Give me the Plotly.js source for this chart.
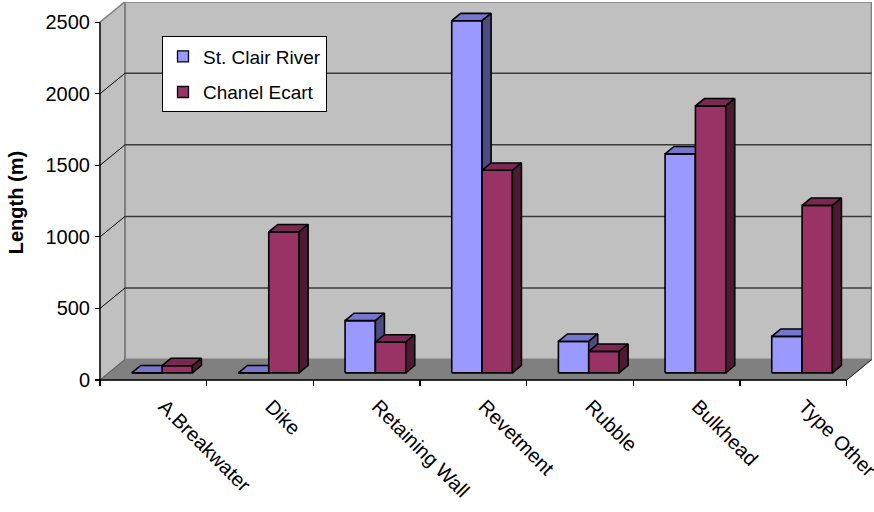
<!DOCTYPE html>
<html><head><meta charset="utf-8">
<script src="https://cdn.plot.ly/plotly-3.0.1.min.js"></script>
<style>html,body{margin:0;padding:0;background:#fff;} #chart{width:874px;height:512px;}</style>
</head><body><div id="chart"></div>
<script>
// ---- data ----
const categories = ['A.Breakwater', 'Dike', 'Retaining Wall', 'Revetment', 'Rubble', 'Bulkhead', 'Type Other'];
const stClairRiver = [0, 0, 365, 2460, 220, 1530, 255];
const chanelEcart = [50, 985, 215, 1415, 150, 1865, 1170];
const seriesNames = ['St. Clair River', 'Chanel Ecart'];
const yTickValues = [0, 500, 1000, 1500, 2000, 2500];
const yTitle = 'Length (m)';

// ---- styles ----
const frontColors = ['#9999FF', '#993366'];
const topColors = ['#7676CC', '#7A2952'];
const sideColors = ['#4C4C80', '#4D1A33'];
const FONT = 'Liberation Sans, Arial, sans-serif';

// ---- 3D geometry (pixels) ----
const W = 874, H = 512;
const plotLeft = 95, plotRight = 872, plotTop = 1.5, plotBottom = 386;
const frontLeft = 100, frontRight = 846.67, frontZero = 380, frontTop = 21.7;
const nCat = categories.length;
const yMaxTick = yTickValues[yTickValues.length - 1];
const Kx = (frontRight - frontLeft) / nCat;
const Ky = (frontZero - frontTop) / yMaxTick;
const DX = 25 / Kx, DY = 20.5 / Ky;          // depth of the box in data units
const xRange = [-0.5 - (frontLeft - plotLeft) / Kx, -0.5 + (plotRight - frontLeft) / Kx];
const yRange = [-(plotBottom - frontZero) / Ky, (frontZero - plotTop) / Ky];
const xLo = -0.5, xHi = nCat - 0.5;
const barW = 30.35 / Kx;
const fFront = 0.35, fDepth = 0.36;

function pushPoly(o, pts) {
  pts.forEach(p => { o.x.push(p[0]); o.y.push(p[1]); });
  o.x.push(pts[0][0]); o.y.push(pts[0][1]);
  o.x.push(null); o.y.push(null);
}

function barFaces(vals, s) {
  const front = {x: [], y: []}, top = {x: [], y: []}, side = {x: [], y: []};
  const dx = fDepth * DX, dy = fDepth * DY;
  vals.forEach((v, i) => {
    const x0 = i - barW + s * barW + fFront * DX, x1 = x0 + barW;
    const yb = fFront * DY, yt = yb + v;
    pushPoly(front, [[x0, yb], [x1, yb], [x1, yt], [x0, yt]]);
    pushPoly(top, [[x0, yt], [x1, yt], [x1 + dx, yt + dy], [x0 + dx, yt + dy]]);
    pushPoly(side, [[x1, yb], [x1 + dx, yb + dy], [x1 + dx, yt + dy], [x1, yt]]);
  });
  return [front, top, side];
}

const traces = [];
[stClairRiver, chanelEcart].forEach((vals, s) => {
  const faces = barFaces(vals, s);
  const cols = [frontColors[s], topColors[s], sideColors[s]];
  faces.forEach((f, k) => {
    traces.push({
      type: 'scatter', mode: 'lines', x: f.x, y: f.y, fill: 'toself',
      fillcolor: cols[k], line: {color: '#000', width: 1.6}, connectgaps: false,
      hoverinfo: 'skip', showlegend: false
    });
  });
});
// legend entries
seriesNames.forEach((n, s) => {
  traces.push({
    type: 'scatter', mode: 'markers', x: [null], y: [null], name: n,
    legendgroup: 'g' + s,
    marker: {symbol: 'square', size: 11, color: frontColors[s], line: {color: '#000', width: 1.3}}
  });
});
// dummy trace to anchor the boundary-tick axis
traces.push({type: 'scatter', x: [null], y: [null], xaxis: 'x2', showlegend: false, hoverinfo: 'skip'});

// ---- walls, floor, gridlines ----
const shapes = [];
const wallGray = '#C0C0C0', edgeGray = '#808080';
shapes.push({type: 'path', layer: 'below', xref: 'x', yref: 'y',
  path: `M${xLo},0 L${xLo + DX},${DY} L${xHi + DX},${DY} L${xHi},0 Z`,
  fillcolor: '#808080', line: {color: '#808080', width: 1}});
shapes.push({type: 'path', layer: 'below', xref: 'x', yref: 'y',
  path: `M${xLo},0 L${xLo + DX},${DY} L${xLo + DX},${yMaxTick + DY} L${xLo},${yMaxTick} Z`,
  fillcolor: wallGray, line: {color: edgeGray, width: 1.5}});
shapes.push({type: 'rect', layer: 'below', xref: 'x', yref: 'y',
  x0: xLo + DX, x1: xHi + DX, y0: DY, y1: yMaxTick + DY,
  fillcolor: wallGray, line: {color: edgeGray, width: 2}});
yTickValues.forEach(v => {
  if (v === 0 || v === yMaxTick) return;
  shapes.push({type: 'line', layer: 'below', xref: 'x', yref: 'y',
    x0: xLo + DX, x1: xHi + DX, y0: v + DY, y1: v + DY, line: {color: '#3a3a3a', width: 1.5}});
  shapes.push({type: 'line', layer: 'below', xref: 'x', yref: 'y',
    x0: xLo, x1: xLo + DX, y0: v, y1: v + DY, line: {color: '#000', width: 1}});
});
// floor edges
shapes.push({type: 'line', layer: 'below', xref: 'x', yref: 'y',
  x0: xLo, x1: xLo + DX, y0: 0, y1: DY, line: {color: '#606060', width: 1}});
shapes.push({type: 'line', layer: 'below', xref: 'x', yref: 'y',
  x0: xHi, x1: xHi + DX, y0: 0, y1: DY, line: {color: '#202020', width: 1}});
// axis lines
shapes.push({type: 'line', layer: 'above', xref: 'x', yref: 'y',
  x0: xLo, x1: xLo, y0: 0, y1: yMaxTick, line: {color: '#000', width: 1.3}});
shapes.push({type: 'line', layer: 'above', xref: 'x', yref: 'y',
  x0: xLo, x1: xHi, y0: 0, y1: 0, line: {color: '#000', width: 1.3}});

const catIdx = categories.map((c, i) => i);
const bounds = [];
for (let i = 0; i <= nCat; i++) bounds.push(i - 0.5);

const layout = {
  width: W, height: H,
  margin: {l: plotLeft, r: W - plotRight, t: plotTop, b: H - plotBottom, pad: 0},
  paper_bgcolor: '#fff', plot_bgcolor: '#fff',
  font: {family: FONT, size: 20, color: '#000'},
  showlegend: true,
  xaxis: {range: xRange, tickvals: catIdx, ticktext: categories, tickangle: 45,
    ticks: '', showgrid: false, zeroline: false, showline: false, ticklabeloverflow: 'allow',
    tickfont: {family: FONT, size: 20, color: '#000'}, ticklabelstandoff: 4, ticklabelshift: 11},
  xaxis2: {range: xRange, overlaying: 'x', anchor: 'y', side: 'bottom', tickvals: bounds,
    ticks: 'inside', ticklen: 6, tickcolor: '#000', tickwidth: 1.2, showticklabels: false,
    showgrid: false, zeroline: false, showline: false},
  yaxis: {range: yRange, tickvals: yTickValues, ticks: 'inside', ticklen: 5, tickcolor: '#000',
    tickwidth: 1.2, showgrid: false, zeroline: false, showline: false,
    tickfont: {family: FONT, size: 20, color: '#000'}, ticklabelstandoff: 4},
  legend: {x: (162 - plotLeft) / (plotRight - plotLeft), y: (plotBottom - 36) / (plotBottom - plotTop),
    xanchor: 'left', yanchor: 'top', bgcolor: '#fff', bordercolor: '#000', borderwidth: 1,
    font: {family: FONT, size: 19, color: '#000'}, traceorder: 'grouped', tracegroupgap: 8,
    itemwidth: 30},
  shapes: shapes,
  annotations: [{text: '<b>' + yTitle + '</b>', textangle: -90, xref: 'paper', yref: 'paper',
    x: (16 - plotLeft) / (plotRight - plotLeft), y: (plotBottom - 203) / (plotBottom - plotTop),
    xanchor: 'center', yanchor: 'middle', showarrow: false,
    font: {family: FONT, size: 20, color: '#000'}}]
};

Plotly.newPlot('chart', traces, layout, {displayModeBar: false, staticPlot: true});
</script>
</body></html>
